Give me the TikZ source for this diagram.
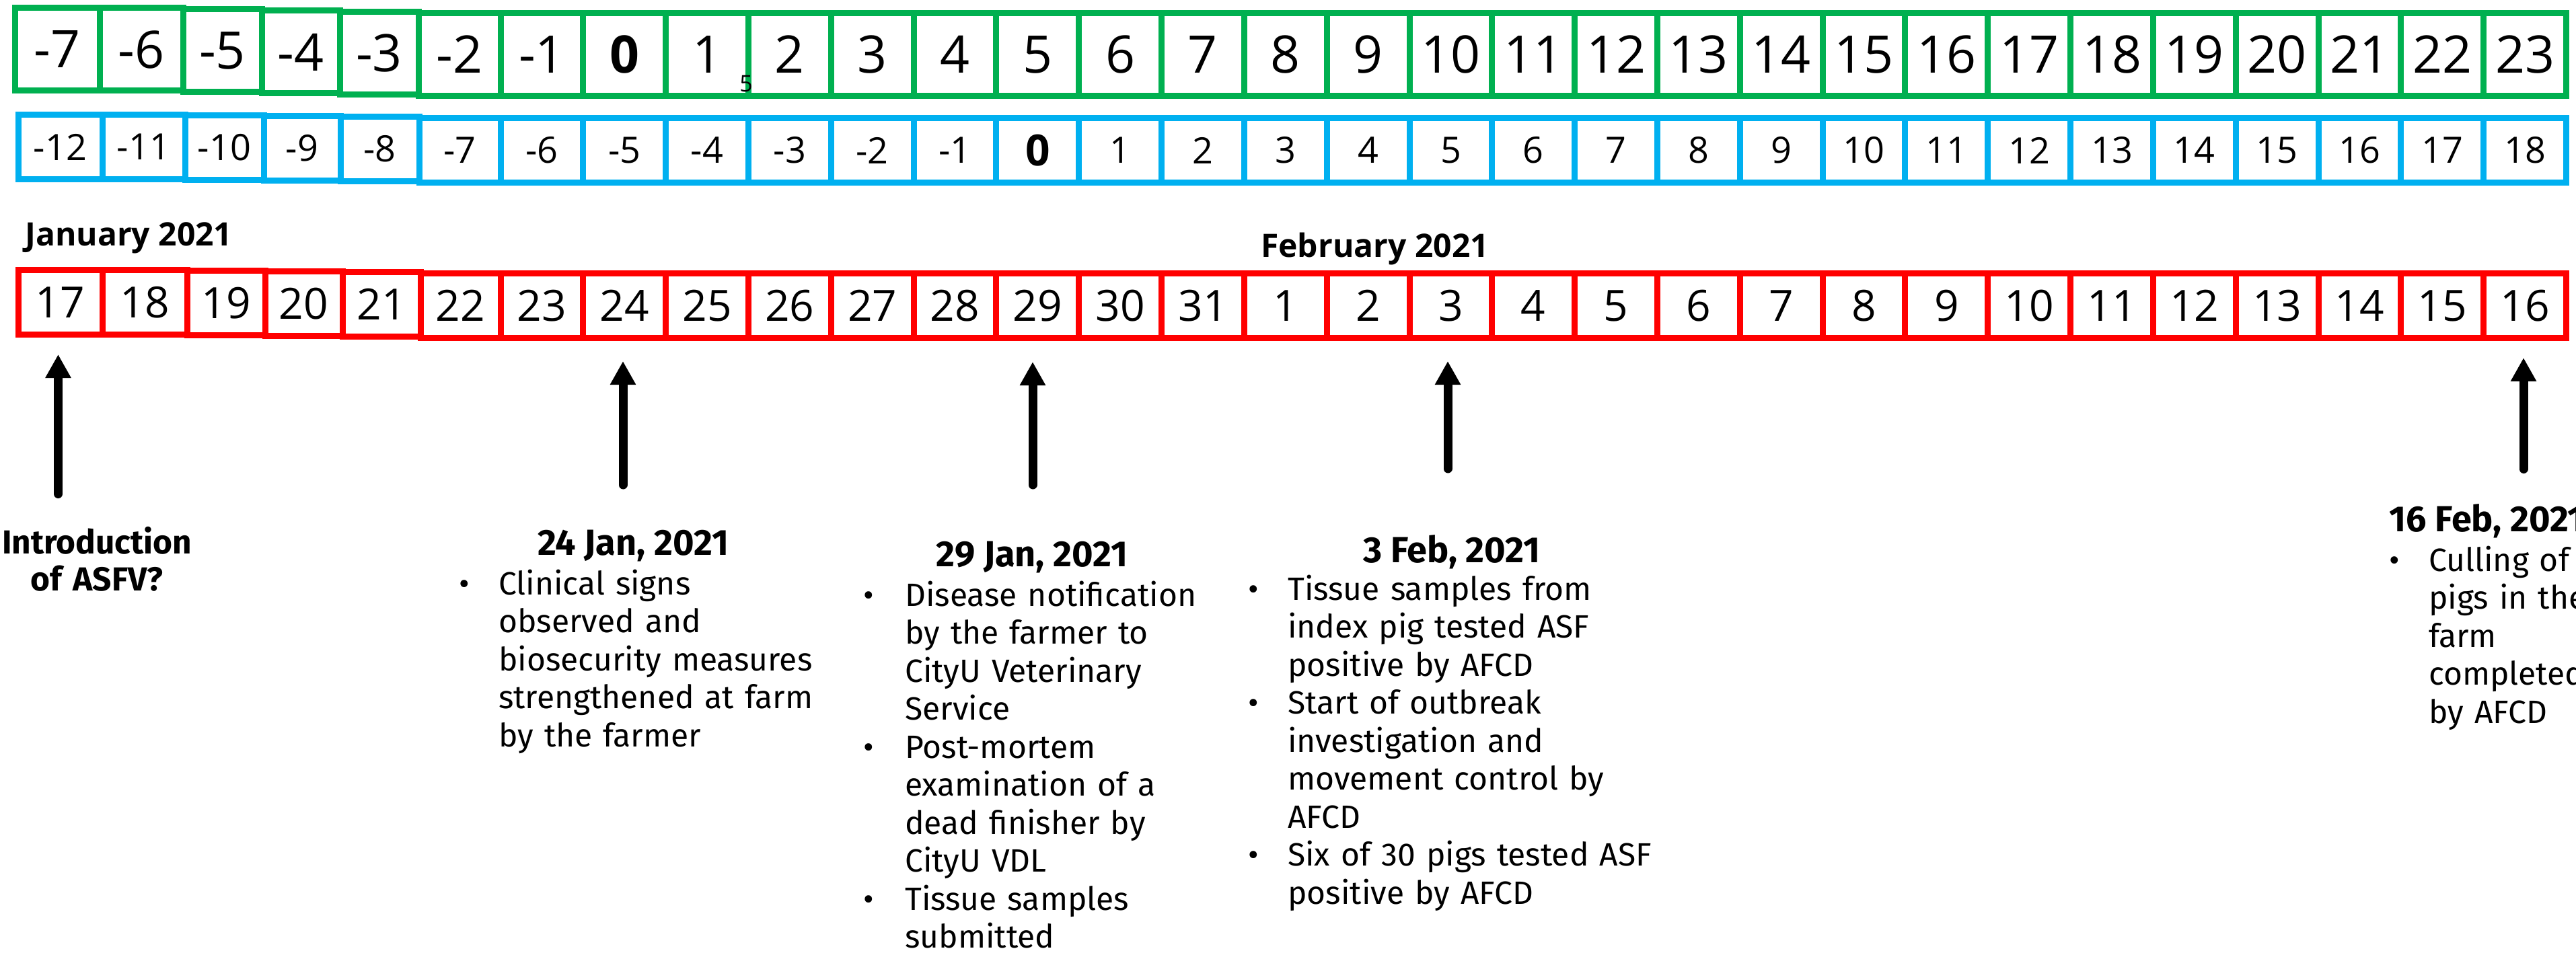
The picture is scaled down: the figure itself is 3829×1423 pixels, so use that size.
\documentclass[tikz,border=0pt]{standalone}
\usepackage{fontspec}
\setmainfont{Fira Sans}
\newfontfamily\digitfont{Open Sans}
\usetikzlibrary{arrows.meta}

\definecolor{rowgreen}{HTML}{00B050}
\definecolor{rowblue}{HTML}{00B0F0}
\definecolor{rowred}{HTML}{FF0000}

% bullet item: bullet in a fixed box, lines (split by \\) in a top-aligned parbox;
% struts keep the line pitch even from one item to the next
\newcommand\itm[2][59pt]{\lineskip=0pt\lineskiplimit=0pt%
  \noindent\makebox[#1][l]{\textbullet}\parbox[t]{800pt}{\raggedright\strut #2\strut}\par}

\tikzset{
  cell/.style={draw, line width=9pt, inner sep=0pt, minimum width=122.82pt},
  gcell/.style={cell, draw=rowgreen, minimum height=123pt, font=\digitfont\fontsize{77}{80}\selectfont},
  bcell/.style={cell, draw=rowblue, minimum height=96pt, font=\digitfont\fontsize{54}{60}\selectfont},
  rcell/.style={cell, draw=rowred, minimum height=96pt, font=\digitfont\fontsize{64}{70}\selectfont},
  month/.style={inner sep=0pt, anchor=base west, font=\digitfont\bfseries\fontsize{48}{52}\selectfont},
  evhead/.style={inner sep=0pt, anchor=base, font=\bfseries\fontsize{54}{60}\selectfont},
  evbody/.style={inner sep=0pt, anchor=base west, text width=900pt, font=\fontsize{48}{56.5}\selectfont},
  evarrow/.style={line width=13pt, line cap=round, -{Triangle[width=36pt,length=35pt]}},
}

\begin{document}
\begin{tikzpicture}[x=1pt,y=1pt]
\useasboundingbox (0,0) rectangle (3829,-1423);
\fill[white] (0,0) rectangle (3829,-1423);
\clip (0,0) rectangle (3829,-1423);

% ---- day counter row (green): first six cells hand placed
\foreach \lab/\xa/\xb/\yc [count=\i from 0] in
  {-7/22.5/148/73.5, -6/148/272/73.5, -5/272/389/75.5, -4/389/505/77.5, -3/505/622/79, -2/622/744/81}
  \node[gcell, minimum width={(\xb-\xa)*1pt}] (g\i) at ({(\xa+\xb)/2},-\yc) {\lab};
\foreach \lab [count=\i from 6] in
  {-1,\textbf{0},1,2,3,4,5,6,7,8,9,10,11,12,13,14,15,16,17,18,19,20,21,22,23}
  \node[gcell] (g\i) at ({744+(\i-5.5)*122.82},-81) {\lab};
\node[inner sep=0pt, font=\digitfont\fontsize{34}{36}\selectfont] (stray) at (1109,-125) {5};

% ---- day counter row (blue)
\foreach \lab/\xa/\xb/\yc [count=\i from 0] in
  {-12/27/152/218.5, -11/152/275/218.5, -10/275/392/219.5, -9/392/506/220.5, -8/506/623/221.5, -7/623/744/223.5}
  \node[bcell, minimum width={(\xb-\xa)*1pt}] (b\i) at ({(\xa+\xb)/2},-\yc) {\lab};
\foreach \lab [count=\i from 6] in
  {-6,-5,-4,-3,-2,-1,{\fontsize{64}{64}\selectfont\bfseries 0},1,2,3,4,5,6,7,8,9,10,11,12,13,14,15,16,17,18}
  \node[bcell] (b\i) at ({744+(\i-5.5)*122.82},-223.5) {\lab};

% ---- calendar row (red)
\node[month] (jan) at (37,-365) {January 2021};
\node[month] (feb) at (1874,-382) {February 2021};
\foreach \lab/\xa/\xb/\yc [count=\i from 0] in
  {17/27/152/449.5, 18/152/278/449.5, 19/278/394/450.5, 20/394/509/451.5, 21/509/625/452.5, 22/625/744/454.5}
  \node[rcell, minimum width={(\xb-\xa)*1pt}] (r\i) at ({(\xa+\xb)/2},-\yc) {\lab};
\foreach \lab [count=\i from 6] in
  {23,24,25,26,27,28,29,30,31,1,2,3,4,5,6,7,8,9,10,11,12,13,14,15,16}
  \node[rcell] (r\i) at ({744+(\i-5.5)*122.82},-454.5) {\lab};

% ---- event arrows
\coordinate (a0) at (86.5,-734.5);  \coordinate (p0) at (86.5,-527);
\coordinate (a7) at (926,-721);     \coordinate (p7) at (926,-537);
\coordinate (a12) at (1535,-721);   \coordinate (p12) at (1535,-538);
\coordinate (a17) at (2152,-697);   \coordinate (p17) at (2152,-537);
\coordinate (a30) at (3751,-697.5); \coordinate (p30) at (3751,-532);
\foreach \k in {0,7,12,17,30} \draw[evarrow] (a\k) -- (p\k);

% ---- event notes
\node[evhead, text width=400pt, align=center, font=\bfseries\fontsize{49.5}{55}\selectfont] (intro) at (144,-823)
  {Introduction\\of ASFV?};

\node[evhead] (h24) at (941,-825) {24 Jan, 2021};
\node[evbody] (e24) at (682,-884)
  {\itm{Clinical signs\\observed and\\biosecurity measures\\strengthened at farm\\by the farmer}};

\node[evhead] (h29) at (1534,-842) {29 Jan, 2021};
\node[evbody] (e29) at (1283,-901)
  {\itm[62pt]{Disease notification\\by the farmer to\\CityU Veterinary\\Service}%
   \itm[62pt]{Post-mortem\\examination of a\\dead finisher by\\CityU VDL}%
   \itm[62pt]{Tissue samples\\submitted}};

\node[evhead] (h3) at (2158,-836) {3 Feb, 2021};
\node[evbody] (e3) at (1855,-892)
  {\itm{Tissue samples from\\index pig tested ASF\\positive by AFCD}%
   \itm{Start of outbreak\\investigation and\\movement control by\\AFCD}%
   \itm{Six of 30 pigs tested ASF\\positive by AFCD}};

\node[evhead, anchor=base west] (h16) at (3551,-790) {16 Feb, 2021};
\node[evbody] (e16) at (3551,-849)
  {\itm{Culling of\\pigs in the\\farm\\completed\\by AFCD}};
\end{tikzpicture}
\end{document}
